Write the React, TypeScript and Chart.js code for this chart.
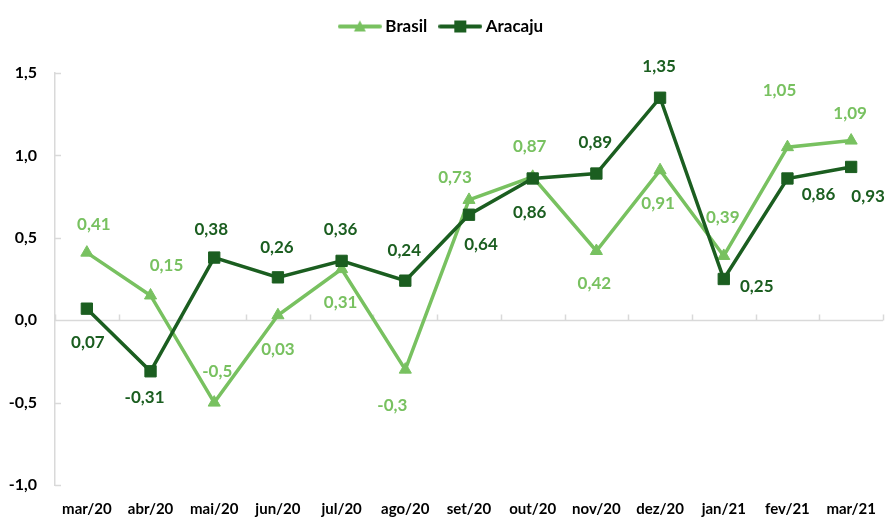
import React, { useEffect, useRef } from "react";
import { Chart, registerables } from "chart.js";

Chart.register(...registerables);

const categories = ["mar/20", "abr/20", "mai/20", "jun/20", "jul/20", "ago/20", "set/20", "out/20", "nov/20", "dez/20", "jan/21", "fev/21", "mar/21"];
const brasil = [0.41, 0.15, -0.5, 0.03, 0.31, -0.3, 0.73, 0.87, 0.42, 0.91, 0.39, 1.05, 1.09];
const aracaju = [0.07, -0.31, 0.38, 0.26, 0.36, 0.24, 0.64, 0.86, 0.89, 1.35, 0.25, 0.86, 0.93];
const yTicks = [-1, -0.5, 0, 0.5, 1, 1.5];
const seriesNames = ["Brasil", "Aracaju"];

const LIGHT = "#78C160";
const DARK = "#1B5E20";
const AXIS_GRAY = "#D9D9D9";
const FONT = "Lato, 'Open Sans', sans-serif";

// label offsets (dx, dy) from each point, in pixels
const brasilLabelOffsets: [number, number][] = [
  [7, -28], [16, -30], [3, -31], [0, 34], [-1, 33], [-13, 36], [-14, -22],
  [-3, -30], [-2, 33], [-2, 33], [-1, -38], [-8, -57], [-1, -27],
];
const aracajuLabelOffsets: [number, number][] = [
  [1, 34], [-6, 26], [-3, -28], [-1, -30], [-1, -31], [-1, -30], [12, 30],
  [-3, 34], [-1, -31], [-1, -31], [33, 8], [31, 16], [17, 30],
];

const fmt = (v: number) => String(v).replace(".", ",");

function makeIcon(color: string, shape: "triangle" | "rect") {
  const c = document.createElement("canvas");
  c.width = 44;
  c.height = 16;
  const ctx = c.getContext("2d")!;
  ctx.strokeStyle = color;
  ctx.fillStyle = color;
  ctx.lineWidth = 4;
  ctx.lineCap = "round";
  ctx.beginPath();
  ctx.moveTo(2, 8);
  ctx.lineTo(42, 8);
  ctx.stroke();
  ctx.beginPath();
  if (shape === "triangle") {
    ctx.moveTo(22, 2);
    ctx.lineTo(28, 13);
    ctx.lineTo(16, 13);
    ctx.closePath();
  } else {
    ctx.rect(16, 2, 12, 12);
  }
  ctx.fill();
  return c;
}

const decorPlugin = {
  id: "decor",
  beforeDatasetsDraw(chart: any) {
    const { ctx, chartArea, scales } = chart;
    const x = scales.x;
    const y = scales.y;
    ctx.save();
    ctx.strokeStyle = AXIS_GRAY;
    ctx.lineWidth = 1.5;
    const y0 = Math.round(y.getPixelForValue(0)) + 0.5;
    ctx.beginPath();
    ctx.moveTo(chartArea.left, y0);
    ctx.lineTo(chartArea.right, y0);
    for (let i = 0; i <= categories.length; i++) {
      const px = Math.round(x.getPixelForValue(i - 0.5)) + 0.5;
      ctx.moveTo(px, y0);
      ctx.lineTo(px, y0 - 6);
    }
    yTicks.forEach((v) => {
      const py = Math.round(y.getPixelForValue(v)) + 0.5;
      ctx.moveTo(chartArea.left, py);
      ctx.lineTo(chartArea.left + 6, py);
    });
    ctx.stroke();
    ctx.restore();
  },
  afterDatasetsDraw(chart: any) {
    const { ctx } = chart;
    const offsets = [brasilLabelOffsets, aracajuLabelOffsets];
    ctx.save();
    ctx.font = `bold 17px ${FONT}`;
    ctx.textAlign = "center";
    ctx.textBaseline = "middle";
    chart.data.datasets.forEach((ds: any, di: number) => {
      const meta = chart.getDatasetMeta(di);
      ctx.fillStyle = ds.borderColor;
      meta.data.forEach((pt: any, i: number) => {
        const [dx, dy] = offsets[di][i];
        ctx.fillText(fmt(ds.data[i]), pt.x + dx, pt.y + dy);
      });
    });
    ctx.restore();
  },
};

export default function App() {
  const ref = useRef<HTMLCanvasElement>(null);

  useEffect(() => {
    if (!ref.current) return;
    const icons = [makeIcon(LIGHT, "triangle"), makeIcon(DARK, "rect")];
    const chart = new Chart(ref.current, {
      type: "line",
      data: {
        labels: categories,
        datasets: [
          {
            label: seriesNames[0],
            data: brasil,
            borderColor: LIGHT,
            backgroundColor: LIGHT,
            borderWidth: 3.5,
            pointStyle: "triangle",
            pointRadius: 7,
            pointBorderWidth: 1,
            pointBackgroundColor: LIGHT,
            pointBorderColor: LIGHT,
            tension: 0,
            order: 1,
          },
          {
            label: seriesNames[1],
            data: aracaju,
            borderColor: DARK,
            backgroundColor: DARK,
            borderWidth: 3.5,
            pointStyle: "rect",
            pointRadius: 8,
            pointBorderWidth: 1,
            pointBackgroundColor: DARK,
            pointBorderColor: DARK,
            tension: 0,
            order: 0,
          },
        ],
      },
      options: {
        animation: false,
        responsive: true,
        maintainAspectRatio: false,
        layout: { padding: { top: 2, left: 0, right: 6, bottom: 2 } },
        plugins: {
          tooltip: { enabled: false },
          legend: {
            display: true,
            position: "top",
            labels: {
              usePointStyle: true,
              pointStyleWidth: 34,
              padding: 16,
              color: "#000",
              font: { family: FONT, size: 17, weight: "bold" },
              generateLabels: (ch: any) =>
                ch.data.datasets.map((ds: any, i: number) => ({
                  text: ds.label,
                  fillStyle: ds.borderColor,
                  strokeStyle: ds.borderColor,
                  fontColor: "#000",
                  pointStyle: icons[i],
                  lineWidth: 0,
                  hidden: false,
                  datasetIndex: i,
                })),
            },
          },
        },
        scales: {
          x: {
            type: "category",
            position: "bottom",
            offset: true,
            grid: { display: false, drawTicks: false },
            border: { display: false },
            ticks: {
              color: "#000",
              padding: 15,
              maxRotation: 0,
              autoSkip: false,
              font: { family: FONT, size: 15, weight: "bold" },
            },
            afterFit: (s: any) => {
              s.height = 33;
            },
          },
          topSpacer: {
            type: "category",
            position: "top",
            labels: categories,
            display: true,
            grid: { display: false, drawTicks: false },
            border: { display: false },
            ticks: { display: false },
            afterFit: (s: any) => {
              s.height = 28;
            },
          },
          y: {
            min: -1,
            max: 1.5,
            afterBuildTicks: (s: any) => {
              s.ticks = yTicks.map((v) => ({ value: v }));
            },
            grid: { display: false, drawTicks: false },
            border: { display: true, color: AXIS_GRAY, width: 1.5 },
            ticks: {
              color: "#000",
              padding: 18,
              font: { family: FONT, size: 16, weight: "bold" },
              callback: (v: any) => Number(v).toFixed(1).replace(".", ","),
            },
            afterFit: (s: any) => {
              s.width = 55;
            },
          },
        },
      },
      plugins: [decorPlugin],
    });
    return () => chart.destroy();
  }, []);

  return (
    <div style={{ position: "fixed", left: 0, top: 0, width: 892, height: 520 }}>
      <canvas ref={ref} />
    </div>
  );
}
